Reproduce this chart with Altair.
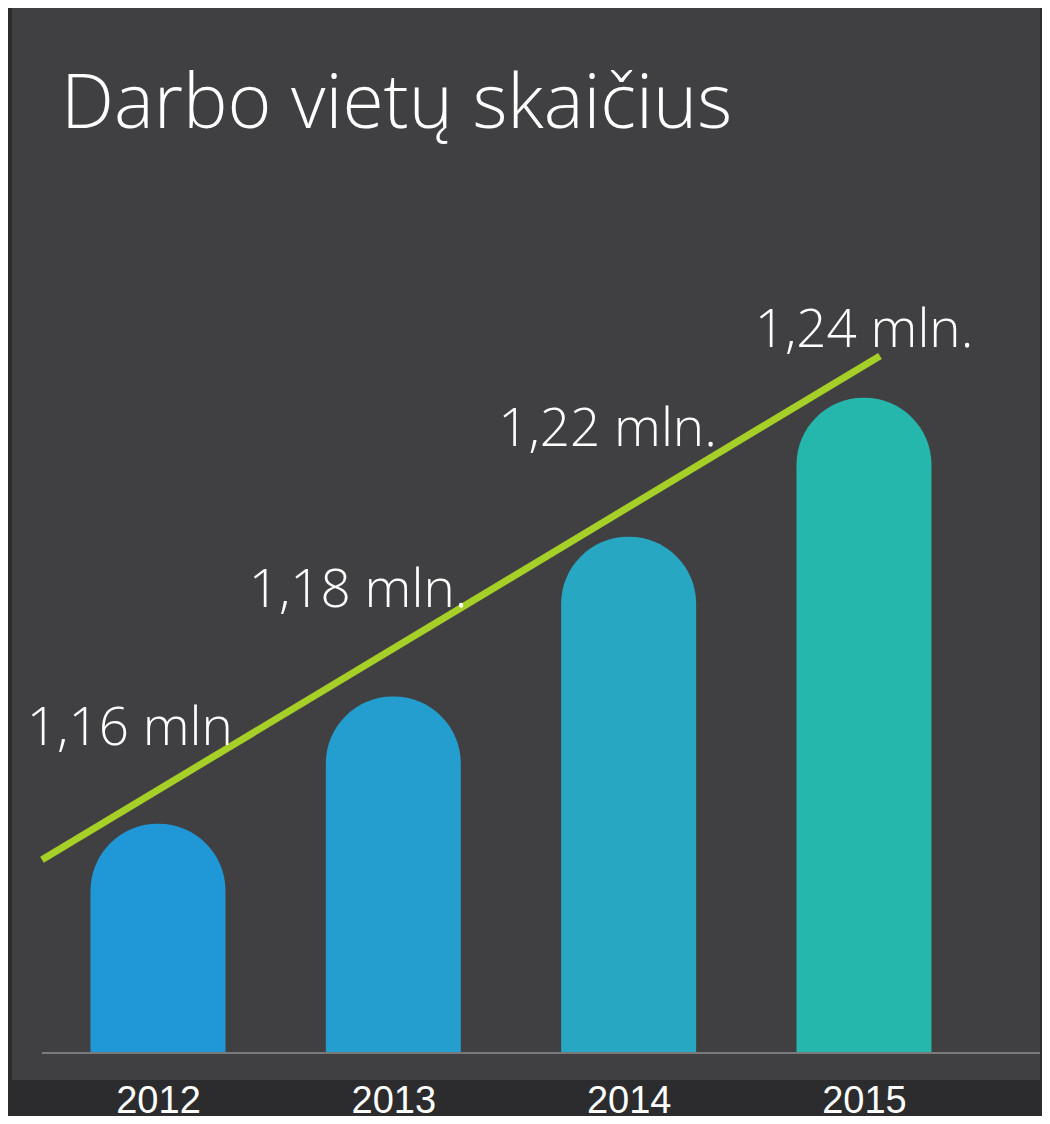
import altair as alt
import pandas as pd

# Data
years = [2012, 2013, 2014, 2015]
value_labels = ["1,16 mln", "1,18 mln.", "1,22 mln.", "1,24 mln."]
bar_level = [35.0, 54.4, 78.8, 100.0]          # drawn bar height (2015 = 100)
bar_colors = ["#2098d8", "#239ecf", "#27a7c2", "#25b7ac"]
label_x = [2011.88, 2012.85, 2013.91, 2015.0]  # label anchor (year units)
label_level = [47.0, 68.1, 92.7, 107.8]        # label baseline level
trend_x = [2011.507, 2015.068]
trend_level = [29.5, 106.4]
title_text = "Darbo vietų skaičius"

bars_df = pd.DataFrame({"year": years, "level": bar_level, "color": bar_colors})
labels_df = pd.DataFrame({"x": label_x, "level": label_level, "label": value_labels})
trend_df = pd.DataFrame({"x": trend_x, "level": trend_level})
base_df = pd.DataFrame({"x": [2011.507], "x2": [2015.748], "level": [0]})
title_df = pd.DataFrame({"t": [title_text]})

xscale = alt.Scale(domain=[2011.3796, 2015.748], nice=False, zero=False, padding=0)
yscale = alt.Scale(domain=[-4.12, 159.5], nice=False, zero=False, padding=0)

bars = alt.Chart(bars_df).mark_bar(
    size=135, cornerRadiusTopLeft=67, cornerRadiusTopRight=67
).encode(
    x=alt.X("year:Q", scale=xscale,
            axis=alt.Axis(values=years, format="d", title=None, domain=False,
                          ticks=False, grid=False, labelFontSize=38,
                          labelColor="#ffffff", labelFont="Liberation Sans",
                          labelPadding=2)),
    y=alt.Y("level:Q", scale=yscale, axis=None),
    y2=alt.datum(0),
    color=alt.Color("color:N", scale=None),
)

baseline = alt.Chart(base_df).mark_rule(color="#7a7a7a", strokeWidth=2).encode(
    x=alt.X("x:Q", scale=xscale), x2="x2:Q", y=alt.Y("level:Q", scale=yscale)
)

trend = alt.Chart(trend_df).mark_line(color="#a6cf27", strokeWidth=7).encode(
    x=alt.X("x:Q", scale=xscale), y=alt.Y("level:Q", scale=yscale)
)

labels = alt.Chart(labels_df).mark_text(
    font="Open Sans", fontWeight=300, fontSize=53, color="#ffffff",
    align="center", baseline="alphabetic"
).encode(
    x=alt.X("x:Q", scale=xscale), y=alt.Y("level:Q", scale=yscale), text="label:N"
)

title = alt.Chart(title_df).mark_text(
    font="Open Sans", fontWeight=300, fontSize=75, color="#ffffff",
    align="left", baseline="alphabetic"
).encode(x=alt.value(49), y=alt.value(120), text="t:N")

chart = alt.layer(bars, baseline, trend, labels, title).properties(
    width=1028, height=1072,
    background="#2c2c2e",
    padding={"left": 4, "top": 0, "right": 2, "bottom": 36},
    autosize=alt.AutoSizeParams(type="none"),
).configure_view(fill="#404042", stroke=None)

chart.save("out.html", embed_options={"renderer": "svg", "actions": False})
